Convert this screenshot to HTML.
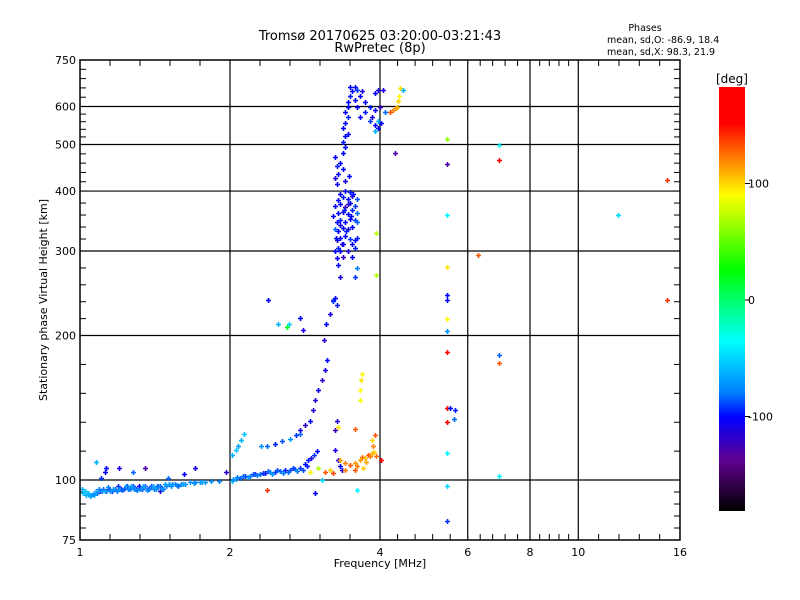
<!DOCTYPE html>
<html><head><meta charset="utf-8"><style>
html,body{margin:0;padding:0;background:#fff;}
svg{display:block;font-family:"DejaVu Sans","Liberation Sans",sans-serif;}
</style></head><body>
<svg id="chart" width="800" height="600" viewBox="0 0 800 600" xmlns="http://www.w3.org/2000/svg">
<defs>
<linearGradient id="cbar" x1="0" y1="0" x2="0" y2="1">
<stop offset="0" stop-color="#ff0000"/>
<stop offset="0.085" stop-color="#ff0000"/>
<stop offset="0.17" stop-color="#ff8000"/>
<stop offset="0.255" stop-color="#ffff00"/>
<stop offset="0.43" stop-color="#00ff00"/>
<stop offset="0.6" stop-color="#00ffff"/>
<stop offset="0.72" stop-color="#0080ff"/>
<stop offset="0.78" stop-color="#0000ff"/>
<stop offset="0.88" stop-color="#600090"/>
<stop offset="1" stop-color="#000000"/>
</linearGradient>
</defs>
<text x="380" y="40" font-size="13" text-anchor="middle">Tromsø 20170625 03:20:00-03:21:43</text>
<text x="380" y="52" font-size="13" text-anchor="middle">RwPretec (8p)</text>
<g font-size="9.5">
<text x="645" y="31" text-anchor="middle">Phases</text>
<text x="607" y="43">mean, sd,O: -86.9, 18.4</text>
<text x="607" y="55">mean, sd,X:  98.3, 21.9</text>
</g>
<g id="grid"></g>
<g id="ticks"></g>
<g id="points"></g>
<rect x="80" y="60" width="600" height="480" fill="none" stroke="#000" stroke-width="1.5"/>
<g id="xlabels" font-size="11" text-anchor="middle"></g>
<g id="ylabels" font-size="11" text-anchor="end"></g>
<text x="380" y="567" font-size="11" text-anchor="middle">Frequency [MHz]</text>
<text x="47" y="300" font-size="11" text-anchor="middle" transform="rotate(-90 47 300)">Stationary phase Virtual Height [km]</text>
<rect x="719" y="87" width="26" height="424" fill="url(#cbar)"/>
<text x="732" y="83" font-size="12" text-anchor="middle">[deg]</text>
<g id="cblabels" font-size="11"></g>
</svg>
<script>
const xTicks = [1, 2, 4, 6, 8, 10, 16];
const yTicks = [75, 100, 200, 300, 400, 500, 600, 750];
const cbTicks = [100, 0, -100];
const freqs = [1.009,1.023,1.038,1.052,1.067,1.082,1.097,1.112,1.128,1.143,1.159,1.175,1.192,1.208,1.225,1.242,1.260,1.277,1.295,1.313,1.332,1.350,1.369,1.388,1.408,1.427,1.447,1.468,1.488,1.509,1.530,1.551,1.573,1.595,1.625,1.662,1.701,1.741,1.782,
1.078,1.12,1.13,1.20,1.28,1.35,1.10,1.50,1.62,1.70,1.96,1.45,
2.018,2.055,2.094,2.14,2.193,2.244,2.297,2.351,2.406,2.462,2.52,2.579,2.639,2.70,2.764,2.828,2.868,2.91,2.95,2.99,
2.018,2.055,2.075,2.104,2.133,
2.31,2.37,2.46,2.54,2.64,2.71,2.76,
2.764,2.828,2.89,2.93,2.96,3.0,3.06,3.1,3.13,3.09,3.12,3.17,3.22,
3.25,3.30,3.33,3.36,3.25,3.28,
3.17,3.33,3.40,3.48,3.56,3.64,3.68,3.73,3.79,3.82,3.86,3.89,3.93,3.56,3.40,3.22,3.68,3.66,3.64,3.64,3.30,3.56,3.90,3.86,3.87,4.02,2.89,3.1,3.0,3.75,3.70,3.60,
3.25,3.28,3.22,3.33,3.30,3.37,3.33,3.60,3.56,3.51,
3.25,3.30,3.37,3.45,3.51,3.56,3.28,3.33,3.40,3.48,3.56,3.60,3.25,3.30,3.37,3.45,3.51,3.28,3.33,3.40,3.48,3.56,3.60,3.22,3.30,3.37,3.45,3.51,3.60,3.25,3.33,3.40,3.48,3.56,3.30,3.37,3.45,3.51,3.60,3.33,3.40,3.48,
3.28,3.25,3.30,3.28,3.33,3.25,3.40,3.37,3.37,3.40,3.37,3.40,3.45,3.37,3.40,3.45,3.40,3.45,
3.45,3.48,3.51,3.56,3.48,3.60,3.64,3.68,3.56,3.73,3.82,3.90,3.96,3.90,3.82,3.90,3.96,4.0,3.60,3.64,3.73,3.86,
4.39,4.37,4.35,4.33,4.25,4.18,4.30,4.45,
4.06,4.09,4.02,3.96,3.90,4.29,3.93,3.93,
5.45,5.45,6.93,6.93,5.45,6.29,5.45,5.45,5.45,5.45,5.45,5.45,6.93,6.93,5.45,5.52,5.66,5.64,5.45,5.45,6.93,5.45,5.45,12.0,15.1,15.1,
2.37,2.96,3.6,3.06,2.38,2.50,2.63,2.76,2.60,2.80,
1.016,1.030,1.045,1.060,1.075,1.090,1.105,1.120,1.136,1.151,1.167,1.184,1.200,1.217,1.234,1.251,1.268,1.286,1.304,1.322,1.341,1.360,1.378,1.398,1.418,1.437,1.458,1.478,1.520,1.562,1.610,1.690,1.760,1.830,1.900,
2.03,2.07,2.12,2.17,2.22,2.27,2.33,2.38,2.43,2.49,2.55,2.61,2.67,2.73,2.80,2.85,
3.28,3.35,3.42,3.50,3.45,3.53,3.32,3.26,3.38,3.47];
const heights = [96,95,94,93,93,94,95,96,95,96,95,96,97,96,96,97,96,97,96,97,96,97,96,97,96,97,97,96,97,98,98,98,97,98,98,99,99,99,99,
109,104,106,106,104,106,101,101,103,106,104,95,
99.5,100.5,101,102,102,103,103,103.5,104,104,104.5,105,105,105.5,106,108,110,111,113,115,
112.6,115.5,118,121,124.5,
118,118,119,120.5,122,124,124.5,
127,130,133,140,147,154,161.6,169.6,178,196,211,222,237,
115.5,110,107,104.9,127,133,
104.9,110,108.4,107.3,108.4,110,111.6,111,112.6,112,113.7,114.2,112,104.9,104.9,103.3,166,161.6,154,147,128.8,128,124,121,118,110,103.8,103.8,106,109,106,107,
240,232,236,265,281,292,300,277,265,292,
300,305,310,300,310,305,316,320,322,318,316,320,333,330,335,333,336,345,348,344,350,348,345,355,360,362,358,366,360,372,375,370,378,372,383,388,385,390,385,395,400,398,
413,425,435,450,458,470,420,445,480,495,507,520,527,540,554,570,585,600,
614,630,645,660,660,650,630,645,620,614,600,640,650,590,560,550,560,600,600,570,585,570,
656,630,615,600,590,585,595,650,
650,585,555,540,533,480,327,268,
513,455,499,464,357,294,278,243,237,217,204,185,182,175,141,141,140,134,132,114,102,97,82,357,422,237,
95.5,94,95.5,100,237,211,211,218,208,205,
94,93,92.5,93.5,95,96,95,95,96.5,95,96,95,96,95.5,97,96,97,96,95.5,96,97,95.5,96,97,96,97,96,98,97,97.5,98,98.5,99,99.5,99.5,
100.5,101.5,102,101.5,103,102.5,103.5,104.5,103,105,103.5,104,106,104.5,105,107,
290,310,330,355,375,395,340,320,365,430];
const phases = [-60,-55,-60,-55,-60,-80,-90,-80,-85,-95,-90,-80,-90,-100,-85,-90,-80,-85,-90,-100,-85,-80,-90,-85,-75,-80,-85,-80,-75,-70,-70,-75,-80,-75,-70,-70,-75,-70,-70,
-60,-100,-100,-110,-80,-130,-90,-80,-100,-110,-120,-115,
-60,-70,-80,-90,-75,-95,-80,-100,-70,-90,-80,-95,-85,-75,-90,-100,-95,-110,-90,-100,
-60,-55,-65,-60,-55,
-70,-80,-95,-85,-70,-90,-80,
-110,-120,-100,-110,-115,-100,-120,-110,-100,-120,-100,-110,-120,
-110,-120,-100,-115,-125,-110,
100,110,120,130,115,110,125,105,130,120,110,100,125,130,120,135,90,95,90,85,95,130,130,100,120,170,90,130,70,110,100,120,
-100,-95,-90,-110,-100,-120,-100,-75,-90,-100,
-100,-95,-100,-110,-100,-95,-110,-100,-100,-90,-100,-95,-80,-100,-100,-110,-100,-100,-95,-100,-100,-90,-80,-100,-100,-110,-100,-95,-80,-100,-100,-120,-100,-90,-100,-95,-100,-110,-85,-100,-100,-95,
-100,-110,-100,-95,-100,-100,-110,-100,-100,-100,-95,-100,-100,-100,-100,-95,-100,-100,
-100,-95,-100,-100,-100,-90,-100,-110,-100,-100,-95,-100,-110,-100,-90,-100,-60,-120,-100,-100,-95,-110,
95,90,100,105,120,130,110,-60,
-110,-80,-100,-100,-60,-130,70,70,
60,-130,-40,170,-40,130,95,-100,-100,90,-70,170,-80,130,170,-100,-95,-80,170,-40,-40,-50,-90,-50,140,140,
140,-100,-40,-50,-100,-60,-50,-100,20,-110,
-55,-60,-65,-70,-65,-75,-70,-65,-75,-70,-65,-75,-70,-80,-70,-75,-65,-70,-75,-70,-65,-70,-75,-65,-70,-75,-70,-65,-70,-75,-65,-70,-65,-70,-75,
-70,-75,-80,-70,-85,-75,-90,-80,-70,-85,-75,-80,-90,-75,-85,-95,
-100,-110,-95,-100,-120,-100,-110,-100,-95,-100];

const NS = 'http://www.w3.org/2000/svg';
const X0 = 80, X1 = 680, Y0 = 540, Y1 = 60;
function xScale(f){ return X0 + (X1 - X0) * Math.log(f) / Math.log(16); }
function yScale(h){ return Y0 - (Y0 - Y1) * Math.log10(h / 75); }
function cbScale(p){ return 300 - p * 1.165; }
const stops = [[180,[255,0,0]],[150,[255,0,0]],[120,[255,128,0]],[88,[255,255,0]],[26,[0,255,0]],[-37,[0,255,255]],[-75,[0,128,255]],[-100,[0,0,255]],[-140,[96,0,144]],[-180,[0,0,0]]];
function color(p){
  for (let i = 0; i < stops.length - 1; i++) {
    const a = stops[i], b = stops[i+1];
    if (p <= a[0] && p >= b[0]) {
      const t = (a[0] - p) / (a[0] - b[0]);
      const c = a[1].map((v, k) => Math.round(v + (b[1][k] - v) * t));
      return 'rgb(' + c.join(',') + ')';
    }
  }
  return p > 0 ? 'rgb(255,0,0)' : 'rgb(0,0,0)';
}
function mk(tag, attrs, parent){
  const e = document.createElementNS(NS, tag);
  for (const k in attrs) e.setAttribute(k, attrs[k]);
  parent.appendChild(e);
  return e;
}
const grid = document.getElementById('grid');
const ticks = document.getElementById('ticks');
xTicks.forEach((f, i) => {
  const x = xScale(f);
  if (i > 0 && i < xTicks.length - 1) {
    const l = mk('line', {x1:x, x2:x, y1:Y1, y2:Y0, stroke:'#000', 'stroke-width':1.2}, grid);
    
    
  }
  const t = mk('text', {x:x, y:556}, document.getElementById('xlabels'));
  t.textContent = f;
  
  
  if (i < xTicks.length - 1) {
    const xa = x, xb = xScale(xTicks[i+1]);
    for (let k = 1; k < 5; k++) {
      const xx = xa + (xb - xa) * k / 5;
      mk('line', {x1:xx, x2:xx, y1:Y0, y2:Y0-6, stroke:'#000'}, ticks);
      mk('line', {x1:xx, x2:xx, y1:Y1, y2:Y1+6, stroke:'#000'}, ticks);
    }
  }
});
yTicks.forEach((h, i) => {
  const y = yScale(h);
  if (i > 0 && i < yTicks.length - 1) {
    const l = mk('line', {x1:X0, x2:X1, y1:y, y2:y, stroke:'#000', 'stroke-width':1.2}, grid);
    
    
  }
  const t = mk('text', {x:76, y:y+4}, document.getElementById('ylabels'));
  t.textContent = h;
  
  
  if (i < yTicks.length - 1) {
    const ya = y, yb = yScale(yTicks[i+1]);
    for (let k = 1; k < 5; k++) {
      const yy = ya + (yb - ya) * k / 5;
      mk('line', {x1:X0, x2:X0+6, y1:yy, y2:yy, stroke:'#000'}, ticks);
      mk('line', {x1:X1, x2:X1-6, y1:yy, y2:yy, stroke:'#000'}, ticks);
    }
  }
});
cbTicks.forEach(p => {
  const y = cbScale(p);
  mk('line', {x1:745, x2:750, y1:y, y2:y, stroke:'#000'}, ticks);
  const t = mk('text', {x:748, y:y+4}, document.getElementById('cblabels'));
  t.textContent = p;
  
  
});
const pts = document.getElementById('points');
const n = Math.min(freqs.length, heights.length, phases.length);
for (let i = 0; i < n; i++) {
  const x = Math.round(xScale(freqs[i])), y = Math.round(yScale(heights[i]));
  const p = mk('path', {d:'M'+(x-2)+' '+(y+0.5)+'h5M'+(x+0.5)+' '+(y-2)+'v5', stroke:color(phases[i]), 'stroke-width':1.6, fill:'none'}, pts);
  
  
}
</script>
</body></html>
